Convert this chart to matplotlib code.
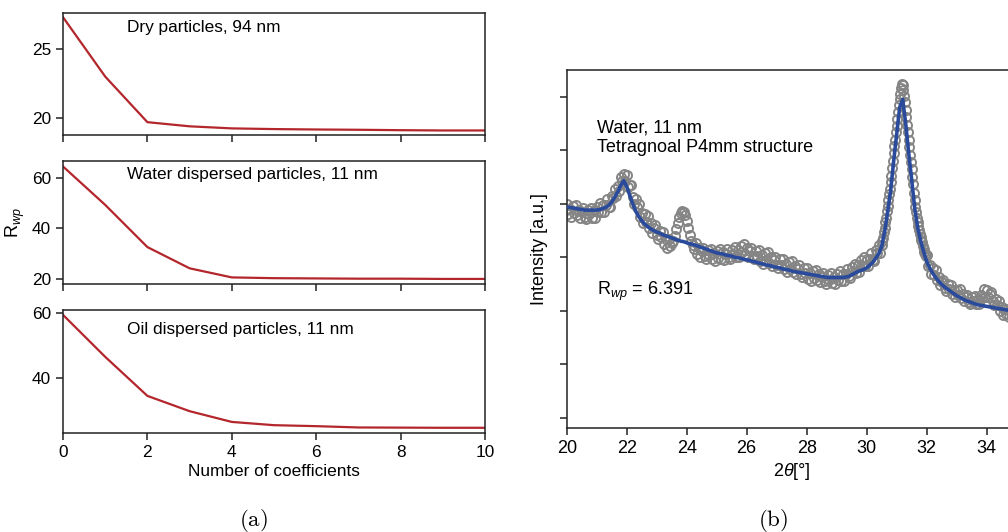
import numpy as np
import matplotlib
matplotlib.use("Agg")
import matplotlib.pyplot as plt

plt.rcParams['font.family'] = ['Liberation Sans', 'DejaVu Sans']
plt.rcParams['mathtext.fontset'] = 'custom'
plt.rcParams['mathtext.rm'] = 'Liberation Sans'
plt.rcParams['mathtext.it'] = 'Liberation Sans:italic'
plt.rcParams['axes.linewidth'] = 1.1
plt.rcParams['axes.edgecolor'] = '#222222'

# ---- (a) R_wp versus number of coefficients ----
n_coeff = [0, 1, 2, 3, 4, 5, 6, 7, 8, 9, 10]
rwp_dry = [27.3, 23.0, 19.7, 19.4, 19.25, 19.2, 19.17, 19.15, 19.12, 19.1, 19.1]
rwp_water = [64.4, 49.2, 32.5, 24.1, 20.5, 20.2, 20.1, 20.0, 20.0, 19.9, 19.9]
rwp_oil = [59.5, 46.6, 34.6, 29.9, 26.6, 25.6, 25.3, 24.9, 24.85, 24.8, 24.8]
panel_labels = ["Dry particles, 94 nm", "Water dispersed particles, 11 nm",
                "Oil dispersed particles, 11 nm"]

# ---- (b) diffraction pattern, water dispersed 11 nm ----
obs_2theta = np.concatenate([np.linspace(20.0, 30.45, 210),
                             np.linspace(30.5, 31.975, 60),
                             np.linspace(32.0, 35.0, 61)])
obs_int = [
    # 20.00 - 30.45, step 0.05
    4.00, 3.80, 3.91, 3.76, 3.95, 3.82, 3.97, 3.78, 3.89, 3.74,
    3.85, 3.92, 3.76, 3.71, 3.89, 3.80, 3.92, 3.74, 3.87, 3.73,
    3.94, 3.84, 4.02, 3.85, 3.98, 3.85, 3.98, 4.08, 3.94, 3.93,
    4.15, 4.11, 4.28, 4.15, 4.33, 4.24, 4.50, 4.42, 4.56, 4.43,
    4.53, 4.31, 4.35, 4.35, 4.12, 3.99, 4.09, 3.94, 4.00, 3.76,
    3.83, 3.64, 3.80, 3.65, 3.77, 3.55, 3.64, 3.46, 3.54, 3.60,
    3.42, 3.34, 3.49, 3.38, 3.47, 3.25, 3.34, 3.17, 3.34, 3.20,
    3.26, 3.30, 3.40, 3.52, 3.64, 3.76, 3.83, 3.86, 3.84, 3.78,
    3.68, 3.55, 3.42, 3.30, 3.22, 3.15, 3.26, 3.06, 3.17, 3.01,
    3.11, 3.18, 3.02, 2.96, 3.13, 3.04, 3.15, 2.96, 3.07, 2.92,
    3.11, 2.99, 3.15, 2.97, 3.09, 2.95, 3.06, 3.15, 3.00, 2.96,
    3.14, 3.06, 3.19, 3.01, 3.14, 3.00, 3.21, 3.09, 3.25, 3.06,
    3.17, 3.01, 3.11, 3.18, 3.02, 2.96, 3.12, 3.02, 3.13, 2.93,
    3.04, 2.88, 3.07, 2.94, 3.09, 2.89, 3.00, 2.84, 2.94, 3.01,
    2.85, 2.79, 2.96, 2.86, 2.97, 2.77, 2.88, 2.72, 2.91, 2.78,
    2.93, 2.73, 2.84, 2.68, 2.78, 2.85, 2.69, 2.63, 2.80, 2.70,
    2.80, 2.60, 2.71, 2.55, 2.74, 2.61, 2.76, 2.57, 2.68, 2.53,
    2.63, 2.71, 2.55, 2.50, 2.67, 2.58, 2.70, 2.51, 2.63, 2.49,
    2.69, 2.58, 2.74, 2.56, 2.69, 2.56, 2.68, 2.78, 2.64, 2.61,
    2.81, 2.74, 2.88, 2.71, 2.85, 2.72, 2.94, 2.84, 3.01, 2.84,
    2.97, 2.84, 2.97, 3.07, 2.94, 2.92, 3.13, 3.07, 3.22, 3.07,
    # 30.500 - 31.975, step 0.025
    3.22, 3.30, 3.36, 3.48, 3.55, 3.66, 3.74, 3.86, 3.95, 4.06,
    4.18, 4.27, 4.40, 4.52, 4.66, 4.80, 4.94, 5.08, 5.20, 5.34,
    5.46, 5.58, 5.72, 5.84, 5.96, 6.06, 6.16, 6.24, 6.22, 6.12,
    6.02, 5.90, 5.76, 5.62, 5.48, 5.34, 5.20, 5.06, 4.92, 4.78,
    4.64, 4.50, 4.36, 4.20, 4.06, 3.94, 3.84, 3.74, 3.66, 3.58,
    3.50, 3.44, 3.38, 3.32, 3.28, 3.20, 3.16, 3.10, 3.06, 3.02,
    # 32.00 - 35.00, step 0.05
    3.04, 2.83, 2.86, 2.69, 2.80, 2.67, 2.76, 2.57, 2.63, 2.48,
    2.54, 2.58, 2.43, 2.37, 2.50, 2.40, 2.48, 2.31, 2.38, 2.25,
    2.39, 2.29, 2.40, 2.23, 2.31, 2.18, 2.25, 2.30, 2.17, 2.12,
    2.26, 2.18, 2.27, 2.13, 2.22, 2.12, 2.30, 2.24, 2.40, 2.26,
    2.38, 2.25, 2.32, 2.35, 2.19, 2.11, 2.22, 2.11, 2.18, 2.00,
    2.06, 1.91, 2.04, 1.93, 2.04, 1.89, 1.99, 1.88, 1.97, 2.03,
    1.91,
]
fit_2theta = np.linspace(20.0, 35.0, 151)
fit_int = [
    3.94, 3.93, 3.92, 3.91, 3.90, 3.89, 3.88, 3.88, 3.88, 3.88,
    3.88, 3.89, 3.91, 3.93, 3.97, 4.03, 4.12, 4.22, 4.34, 4.43,
    4.32, 4.16, 4.00, 3.86, 3.76, 3.68, 3.62, 3.57, 3.53, 3.50,
    3.47, 3.45, 3.42, 3.40, 3.38, 3.36, 3.34, 3.32, 3.30, 3.29,
    3.27, 3.25, 3.24, 3.22, 3.20, 3.18, 3.16, 3.14, 3.12, 3.10,
    3.08, 3.07, 3.06, 3.04, 3.03, 3.02, 3.00, 2.99, 2.98, 2.96,
    2.95, 2.94, 2.92, 2.91, 2.89, 2.88, 2.86, 2.85, 2.84, 2.82,
    2.81, 2.80, 2.78, 2.77, 2.76, 2.74, 2.73, 2.72, 2.71, 2.70,
    2.69, 2.68, 2.67, 2.66, 2.65, 2.64, 2.63, 2.62, 2.62, 2.62,
    2.62, 2.62, 2.62, 2.63, 2.64, 2.67, 2.70, 2.73, 2.75, 2.77,
    2.80, 2.85, 2.90, 2.98, 3.06, 3.20, 3.48, 3.85, 4.25, 4.80,
    5.30, 5.80, 5.95, 5.50, 4.95, 4.45, 3.92, 3.55, 3.30, 3.10,
    2.92, 2.80, 2.70, 2.62, 2.55, 2.49, 2.44, 2.40, 2.36, 2.32,
    2.28, 2.25, 2.22, 2.19, 2.17, 2.15, 2.13, 2.11, 2.10, 2.09,
    2.08, 2.07, 2.06, 2.05, 2.04, 2.03, 2.02, 2.01, 2.00, 1.99,
    1.98,
]

red = '#b3262c'
blue = '#2a4a9c'
fs_a = 12.4
fs_b = 13

fig = plt.figure(figsize=(10.08, 5.32), dpi=100)

# left column: three stacked panels
left, width = 0.0625, 0.4187
boxes = [(0.7462, 0.2293), (0.4662, 0.2318), (0.1855, 0.2318)]
ylims = [(18.77, 27.6), (17.9, 66.7), (23.1, 61.0)]
yticks = [[20, 25], [20, 40, 60], [40, 60]]
label_y = [0.885, 0.884, 0.843]
series = [rwp_dry, rwp_water, rwp_oil]

axes_a = []
for i, (b, h) in enumerate(boxes):
    ax = fig.add_axes([left, b, width, h])
    ax.plot(n_coeff, series[i], color=red, lw=1.6)
    ax.set_xlim(0, 10)
    ax.set_ylim(*ylims[i])
    ax.set_yticks(yticks[i])
    ax.set_xticks(range(0, 11, 2))
    ax.tick_params(direction='out', length=5, width=1.1, labelsize=fs_a,
                   colors='#222222', labelcolor='black')
    if i < 2:
        ax.tick_params(labelbottom=False)
    ax.text(0.152, label_y[i], panel_labels[i], transform=ax.transAxes,
            fontsize=fs_a, va='center', ha='left')
    axes_a.append(ax)

axes_a[1].set_ylabel(r'R$_{wp}$', fontsize=fs_a + 0.5)
axes_a[1].yaxis.set_label_coords(-0.085, 0.5)
axes_a[2].set_xlabel('Number of coefficients', fontsize=fs_a, labelpad=3)

# right panel
axb = fig.add_axes([0.5622, 0.1949, 0.4464, 0.6735])
axb.plot(obs_2theta, obs_int, 'o', mfc='none', mec='#858585', mew=1.4,
         ms=6.5, zorder=2)
axb.plot(fit_2theta, fit_int, color=blue, lw=2.6, zorder=3)
axb.set_xlim(20, 35)
axb.set_ylim(-0.2, 6.5)
axb.set_xticks(range(20, 35, 2))
axb.set_yticks(range(7))
axb.set_yticklabels([])
axb.tick_params(direction='out', length=5, width=1.1, labelsize=fs_b,
                colors='#222222', labelcolor='black')
axb.set_xlabel(r'2$\theta$[°]', fontsize=fs_b, labelpad=3)
axb.set_ylabel('Intensity [a.u.]', fontsize=fs_b)
axb.yaxis.set_label_coords(-0.042, 0.5)
axb.text(21.0, 5.58, 'Water, 11 nm\nTetragnoal P4mm structure',
         fontsize=fs_b, va='top', ha='left', linespacing=1.2)
axb.text(21.0, 2.36, r'R$_{wp}$ = 6.391', fontsize=fs_b, va='center', ha='left')

fig.text(253 / 1008, 1 - 520 / 532, r'$\mathrm{(a)}$', fontsize=16.5,
         ha='center', va='center', math_fontfamily='cm')
fig.text(773 / 1008, 1 - 520 / 532, r'$\mathrm{(b)}$', fontsize=16.5,
         ha='center', va='center', math_fontfamily='cm')

fig.savefig('out.png', dpi=100)
